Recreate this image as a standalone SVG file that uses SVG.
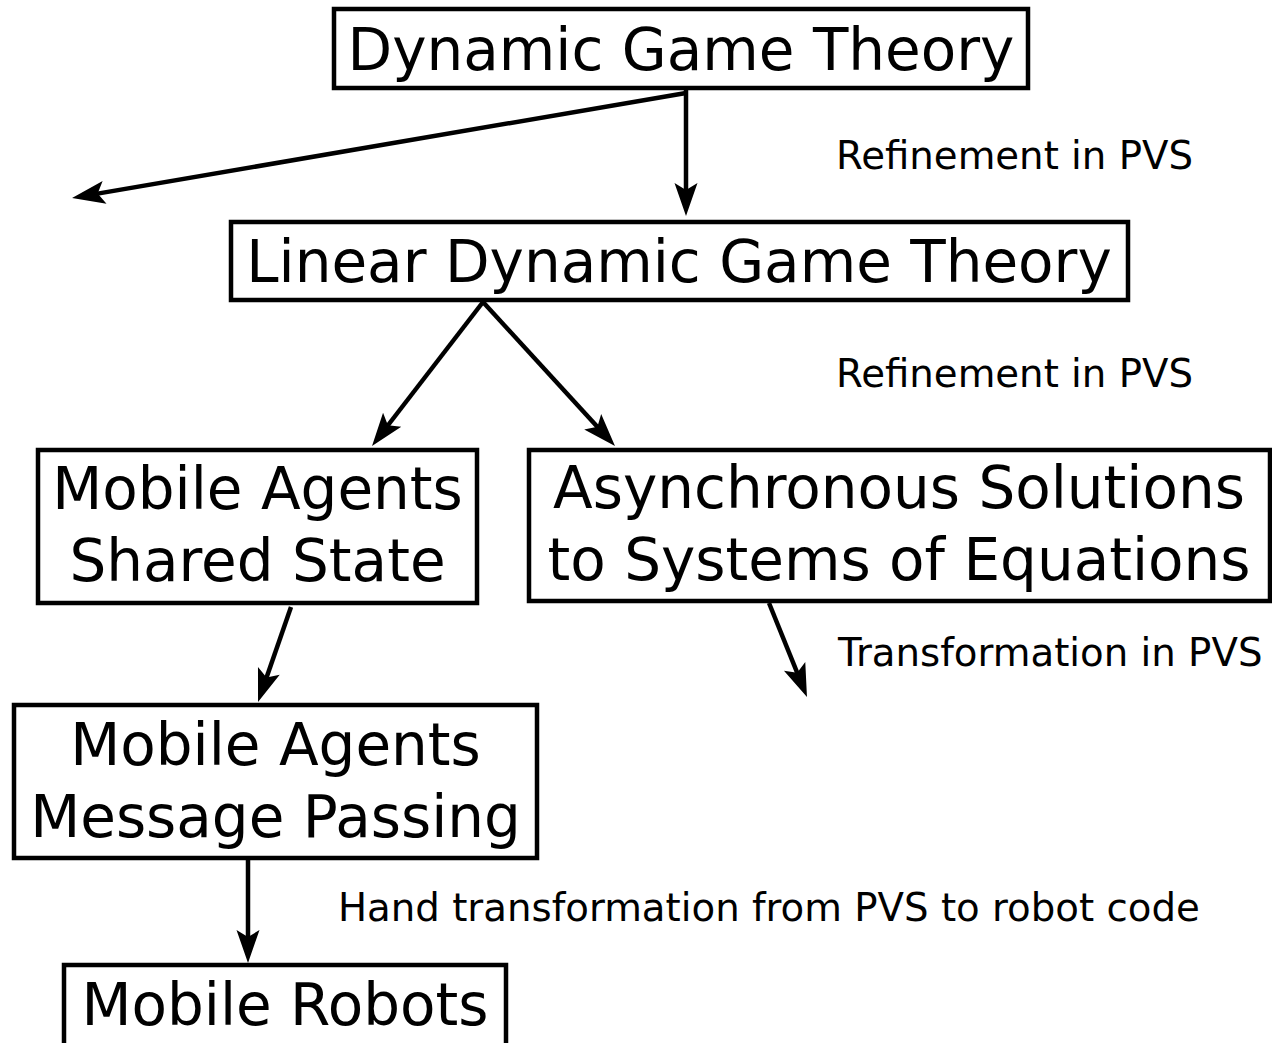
<svg xmlns="http://www.w3.org/2000/svg" width="1272" height="1043" viewBox="0 0 1272 1043">
<style>
.box{fill:#fff;stroke:#000;stroke-width:4.5}
.t{font-family:"DejaVu Sans",sans-serif;font-size:58px;fill:#000;text-anchor:middle}
.l{font-family:"DejaVu Sans",sans-serif;font-size:38.7px;fill:#000}
.c{fill:none;stroke:#000;stroke-width:4.5;marker-end:url(#ah)}
</style>
<defs>
<marker id="ah" markerUnits="userSpaceOnUse" markerWidth="34" markerHeight="24" refX="16" refY="11.5" orient="auto" overflow="visible">
<path d="M0,0 L33,11.5 L0,23 L7,11.5 Z" fill="#000"/>
</marker>
</defs>
<rect width="1272" height="1043" fill="#fff"/>
<g id="connectors">
<line class="c" x1="686" y1="90" x2="686" y2="199"/>
<line class="c" x1="686" y1="93" x2="88.8" y2="195.1"/>
<line class="c" x1="483" y1="302" x2="382.4" y2="432.5"/>
<line class="c" x1="483" y1="302" x2="603.5" y2="433.5"/>
<line class="c" x1="291" y1="607" x2="263.6" y2="686"/>
<line class="c" x1="769" y1="603" x2="800.6" y2="681.2"/>
<line class="c" x1="248" y1="860" x2="248" y2="946"/>
</g>
<g id="n1"><rect class="box" x="334" y="9" width="694" height="79"/><text class="t" x="681" y="70">Dynamic Game Theory</text></g>
<g id="n2"><rect class="box" x="231" y="222" width="897" height="78"/><text class="t" x="679" y="282">Linear Dynamic Game Theory</text></g>
<g id="n3"><rect class="box" x="38" y="450" width="439" height="153"/><text class="t" x="257.5" y="509">Mobile Agents</text><text class="t" x="257.5" y="581">Shared State</text></g>
<g id="n4"><rect class="box" x="529" y="450" width="741" height="151"/><text class="t" x="899" y="508">Asynchronous Solutions</text><text class="t" x="899" y="580">to Systems of Equations</text></g>
<g id="n5"><rect class="box" x="14" y="705" width="523" height="153"/><text class="t" x="275.5" y="765">Mobile Agents</text><text class="t" x="275.5" y="837">Message Passing</text></g>
<g id="n6"><rect class="box" x="64" y="965" width="442" height="90"/><text class="t" x="285" y="1025">Mobile Robots</text></g>
<g id="labels">
<text class="l" x="836" y="169">Refinement in PVS</text>
<text class="l" x="836" y="387">Refinement in PVS</text>
<text class="l" x="838" y="666">Transformation in PVS</text>
<text class="l" x="338" y="921">Hand transformation from PVS to robot code</text>
</g>
</svg>
